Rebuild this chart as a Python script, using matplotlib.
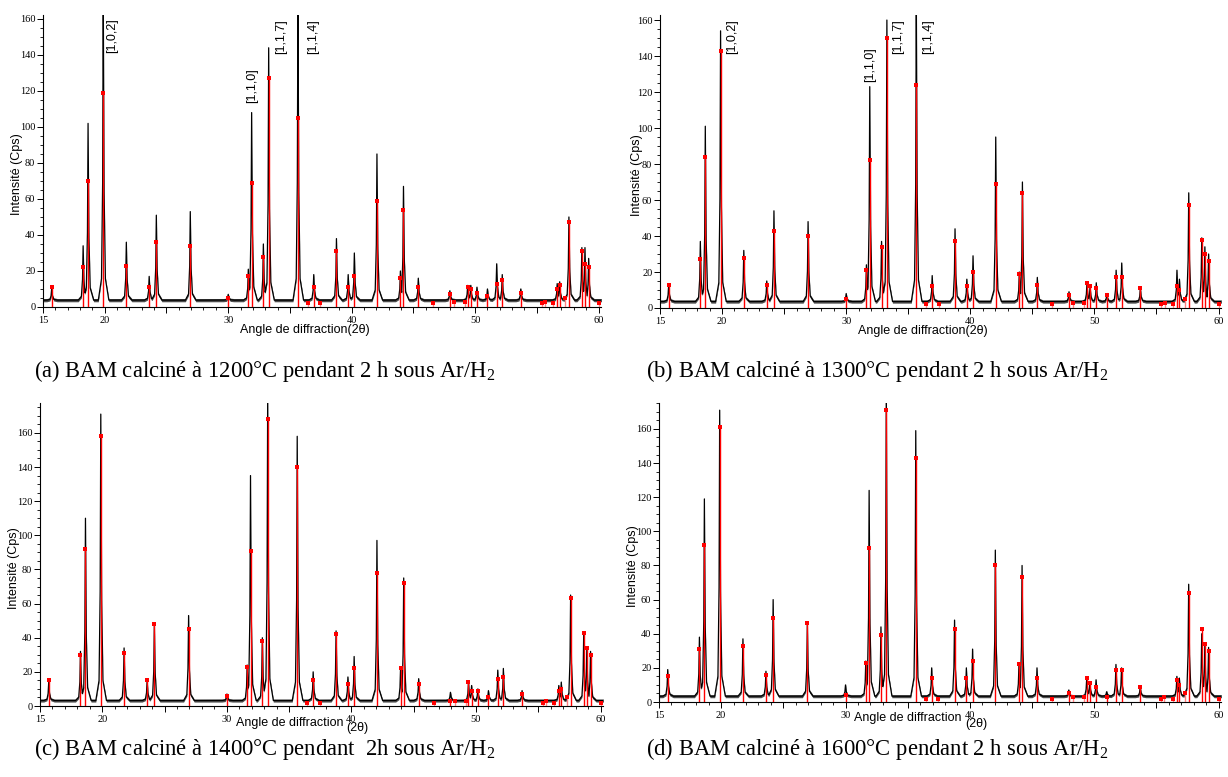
import numpy as np
import matplotlib
matplotlib.use('Agg')
import matplotlib.pyplot as plt
import matplotlib.transforms as mtransforms
from matplotlib.ticker import MultipleLocator, FixedLocator, FixedFormatter

plt.rcParams['mathtext.fontset'] = 'custom'
plt.rcParams['mathtext.rm'] = 'Liberation Serif'
plt.rcParams['mathtext.it'] = 'Liberation Serif:italic'

# ---------------- data ----------------
peak_pos = [15.7, 18.25, 18.65, 19.88, 21.75, 23.6, 24.18, 26.93, 30.0, 31.63, 31.9,
            32.85, 33.28, 35.65, 36.93, 38.77, 39.72, 40.22, 42.05, 43.95, 44.2, 45.4,
            47.95, 49.4, 49.65, 50.15, 51.0, 51.75, 52.2, 53.7, 56.65, 56.85, 57.6,
            58.65, 58.9, 59.2]

profile_a = [10, 34, 102, 175, 36, 17, 51, 53, 7, 21, 108, 35, 144, 175, 18, 38, 18, 30,
             85, 20, 67, 16, 9, 12, 12, 11, 10, 24, 18, 10, 13, 14, 50, 33, 33, 27]
profile_b = [13, 37, 101, 154, 32, 15, 54, 48, 8, 24, 123, 37, 160, 175, 18, 44, 16, 29,
             95, 20, 70, 17, 9, 14, 12, 14, 8, 21, 25, 11, 21, 16, 64, 39, 34, 30]
profile_c = [14, 32, 110, 171, 34, 15, 48, 53, 7, 24, 135, 40, 185, 158, 20, 44, 17, 29,
             97, 23, 75, 16, 8, 14, 12, 10, 9, 21, 22, 9, 12, 14, 65, 42, 33, 32]
profile_d = [19, 38, 119, 171, 37, 18, 60, 46, 10, 24, 124, 44, 185, 159, 20, 48, 20, 31,
             89, 22, 80, 20, 7, 14, 12, 13, 6, 22, 20, 9, 15, 14, 69, 40, 34, 32]

ref_a = [11, 22, 70, 119, 23, 11, 36, 34, 5, 17, 69, 28, 127, 105, 11, 31, 11, 17,
         59, 16, 54, 11, 7, 11, 10, 8, 6, 13, 15, 8, 10, 12, 47, 31, 24, 22]
ref_b = [13, 27, 84, 143, 28, 13, 43, 40, 5, 21, 82, 34, 150, 124, 12, 37, 12, 20,
         69, 19, 64, 13, 7, 14, 12, 11, 7, 17, 17, 11, 12, 10, 57, 38, 30, 26]
ref_c = [15, 30, 92, 158, 31, 15, 48, 45, 6, 23, 91, 38, 168, 140, 15, 42, 13, 22,
         78, 22, 72, 13, 3, 14, 9, 9, 5, 16, 17, 7, 9, 10, 63, 43, 34, 30]
ref_d = [15, 31, 92, 161, 33, 16, 49, 46, 4, 23, 90, 39, 171, 143, 14, 43, 14, 24,
         80, 22, 73, 14, 5, 14, 11, 9, 3, 19, 19, 9, 13, 10, 64, 43, 34, 30]

minor_ref_pos = [36.45, 37.45, 46.6, 48.3, 49.2, 55.4, 55.65, 56.3, 57.3, 60.05]
minor_ref_h = [2, 2, 2, 3, 3, 2, 3, 2, 5, 2]

background = [3.8, 3.6, 3.2, 3.4]

captions = ["(a) BAM calciné à 1200°C pendant 2 h sous Ar/H$_2$",
            "(b) BAM calciné à 1300°C pendant 2 h sous Ar/H$_2$",
            "(c) BAM calciné à 1400°C pendant  2h sous Ar/H$_2$",
            "(d) BAM calciné à 1600°C pendant 2 h sous Ar/H$_2$"]

hkl_labels = ['[1,0,2]', '[1,1,0]', '[1,1,7]', '[1,1,4]']
hkl_x_a = [20.6, 31.9, 34.25, 36.9]
hkl_y_a = [151, 123, 150, 150]
hkl_x_b = [20.84, 31.93, 34.15, 36.57]
hkl_y_b = [151, 135, 151, 151]

xtick_vals = [15, 20, 25, 30, 35, 40, 45, 50, 55, 60]
xtick_text = ['15', '20', '', '30', '', '40', '', '50', '', '60']

# ---------------- layout ----------------
W, H = 1228, 777
fig = plt.figure(figsize=(W / 100, H / 100), dpi=100)

def frac(l, t, r, b):
    return [l / W, 1 - b / H, (r - l) / W, (b - t) / H]

boxes = [frac(43, 15, 601, 307), frac(660, 15, 1221, 308),
         frac(40, 403, 603, 706), frac(659, 403, 1221, 702)]
ytops = [162.2, 162.8, 177.5, 175.2]
profiles = [profile_a, profile_b, profile_c, profile_d]
refs = [ref_a, ref_b, ref_c, ref_d]
cap_xy = [(265, 371), (877, 371), (265, 749), (877, 749)]
ylab_x = [-0.036, -0.031, -0.036, -0.036]

serif = 'Liberation Serif'
sans = 'Liberation Sans'

grid = np.arange(14.8, 60.4, 0.005)
off = np.array([-0.4, -0.14, -0.05, 0.0, 0.06, 0.17, 0.45])
shape = np.array([0.0, 0.07, 0.38, 1.0, 0.38, 0.07, 0.0])

def build_profile(pos, hts, base):
    y = np.full_like(grid, base)
    for p, h in zip(pos, hts):
        y = np.maximum(y, base + np.interp(grid, p + off, shape) * (h - base))
    return y

for i in range(4):
    ax = fig.add_axes(boxes[i])
    prof = build_profile(peak_pos, profiles[i], background[i])
    ax.fill_between(grid, prof - 0.9, prof + 0.9, color='0.3', lw=0, zorder=1)
    ax.plot(grid, prof, color='black', lw=0.9, zorder=2)
    ax.vlines(minor_ref_pos, 0, minor_ref_h, colors='#ff8080', lw=1.0, zorder=3)
    ax.plot(minor_ref_pos, minor_ref_h, 's', color='red', ms=2.5, mew=0, zorder=4)
    ax.vlines(peak_pos, 0, refs[i], colors='red', lw=1.0, zorder=3)
    ax.plot(peak_pos, refs[i], 's', color='red', ms=2.7, mew=0, zorder=4)

    ax.set_xlim(15, 60.2)
    ax.set_ylim(0, ytops[i])
    for s in ['top', 'right']:
        ax.spines[s].set_visible(False)
    for s in ['left', 'bottom']:
        ax.spines[s].set_linewidth(0.8)
    ax.xaxis.set_major_locator(FixedLocator(xtick_vals))
    ax.xaxis.set_major_formatter(FixedFormatter(xtick_text))
    ax.xaxis.set_minor_locator(MultipleLocator(1))
    ax.yaxis.set_major_locator(MultipleLocator(20))
    ax.yaxis.set_minor_locator(MultipleLocator(5))
    ax.tick_params(which='major', direction='out', length=4, width=0.7,
                   labelsize=7.5, pad=1.5)
    ax.tick_params(axis='x', which='major', pad=2.5)
    ax.tick_params(which='minor', direction='out', length=2, width=0.6)
    for lab in ax.get_xticklabels() + ax.get_yticklabels():
        lab.set_fontfamily(serif)

    ax.set_ylabel('Intensité (Cps)', fontsize=9, family=sans)
    ax.yaxis.set_label_coords(ylab_x[i], 0.455)

    tr = mtransforms.blended_transform_factory(ax.transData, ax.transAxes)
    if i < 2:
        ax.text(36.2, -0.078, 'Angle de diffraction(2θ)', transform=tr,
                ha='center', va='center', fontsize=9, family=sans)
    else:
        ax.text(39.35, -0.055, 'Angle de diffraction', transform=tr,
                ha='right', va='center', fontsize=9, family=sans)
        ax.text(39.6, -0.072, '(2θ)', transform=tr,
                ha='left', va='center', fontsize=9, family=sans)

    if i == 0:
        for t, x, y in zip(hkl_labels, hkl_x_a, hkl_y_a):
            ax.text(x, y, t, rotation=90, ha='center', va='center', fontsize=9, family=sans)
    if i == 1:
        for t, x, y in zip(hkl_labels, hkl_x_b, hkl_y_b):
            ax.text(x, y, t, rotation=90, ha='center', va='center', fontsize=9, family=sans)

    cx, cy = cap_xy[i]
    fig.text(cx / W, 1 - cy / H, captions[i], ha='center', va='center',
             fontsize=16.3, family=serif)

fig.savefig('out.png', dpi=100)
